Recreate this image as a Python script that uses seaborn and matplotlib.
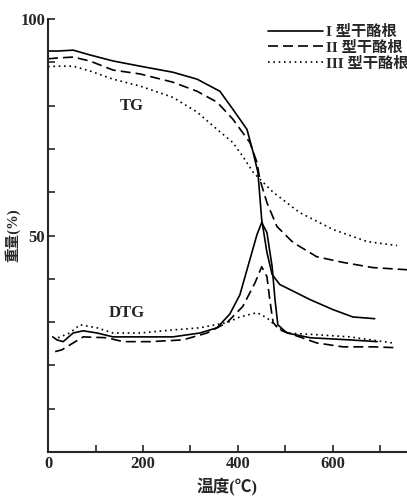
import matplotlib
matplotlib.use("Agg")
import matplotlib.pyplot as plt
import pandas as pd
import seaborn as sns

# TG curves (weight %)
tg_x_1 = [0, 21, 53, 88, 137, 194, 263, 314, 362, 389, 419, 432, 442, 450, 461, 472, 488, 552, 600, 642, 688]
tg_y_1 = [92.6, 92.6, 92.8, 91.7, 90.3, 89.1, 87.7, 86.1, 83.3, 79.2, 74.5, 69.2, 64.6, 53.7, 46.1, 41.0, 38.7, 35.2, 32.9, 31.2, 30.8]

tg_x_2 = [0, 21, 53, 88, 137, 194, 263, 314, 356, 389, 425, 440, 446, 461, 482, 516, 566, 621, 684, 756]
tg_y_2 = [90.8, 91.0, 91.2, 90.3, 88.2, 87.3, 85.4, 83.3, 80.8, 76.9, 71.5, 66.9, 63.0, 57.6, 52.1, 48.4, 45.1, 43.8, 42.6, 42.1]

tg_x_3 = [0, 21, 53, 88, 137, 194, 263, 314, 356, 389, 410, 432, 440, 474, 530, 600, 672, 735]
tg_y_3 = [89.0, 89.1, 89.1, 88.0, 86.1, 84.5, 81.9, 78.5, 74.5, 71.5, 68.3, 64.6, 63.7, 60.0, 55.3, 51.4, 48.6, 47.7]

# DTG curves (arbitrary scale, drawn on the same axis)
dtg_x_1 = [10, 19, 32, 53, 74, 103, 137, 194, 263, 320, 356, 383, 404, 425, 440, 450, 461, 472, 478, 484, 503, 552, 636, 693]
dtg_y_1 = [26.6, 25.9, 25.5, 27.5, 28.0, 27.5, 26.6, 26.6, 26.6, 27.5, 28.7, 31.9, 36.3, 44.4, 50.2, 53.0, 50.7, 42.8, 35.2, 29.4, 27.5, 26.4, 25.9, 25.5]

dtg_x_2 = [15, 29, 53, 74, 124, 158, 215, 284, 335, 377, 410, 436, 450, 461, 467, 474, 488, 566, 621, 684, 735]
dtg_y_2 = [23.2, 23.6, 25.2, 26.6, 26.4, 25.5, 25.5, 25.9, 27.5, 29.9, 33.6, 39.1, 42.8, 40.5, 35.2, 29.9, 28.2, 25.2, 24.3, 24.3, 24.1]

dtg_x_3 = [21, 46, 67, 103, 137, 194, 263, 320, 377, 404, 440, 461, 482, 503, 566, 636, 726]
dtg_y_3 = [26.4, 27.5, 29.4, 28.7, 27.5, 27.5, 28.2, 28.7, 29.9, 31.2, 32.2, 31.0, 28.9, 27.5, 27.1, 26.6, 25.2]

labels = ["I 型干酪根", "II 型干酪根", "III 型干酪根"]

sns.set_style("ticks")
plt.rcParams['font.family'] = ['Liberation Serif', 'Noto Sans CJK SC', 'DejaVu Sans']
plt.rcParams['font.weight'] = 'bold'

fig = plt.figure(figsize=(4.07, 4.99), dpi=100)
ax = fig.add_axes([0.118, 0.094, 0.882, 0.868])

styles = ['-', (0, (6, 3)), (0, (1, 2.2))]
series = [
    (tg_x_1, tg_y_1, dtg_x_1, dtg_y_1),
    (tg_x_2, tg_y_2, dtg_x_2, dtg_y_2),
    (tg_x_3, tg_y_3, dtg_x_3, dtg_y_3),
]
handles = []
for (tx, ty, dx, dy), ls, lab in zip(series, styles, labels):
    tg = pd.DataFrame({'T': tx, 'W': ty})
    dtg = pd.DataFrame({'T': dx, 'W': dy})
    sns.lineplot(data=tg, x='T', y='W', ax=ax, color='black', linestyle=ls, linewidth=1.2)
    sns.lineplot(data=dtg, x='T', y='W', ax=ax, color='black', linestyle=ls, linewidth=1.2)
    handles.append(ax.lines[-1])

ax.set_xlim(0, 756)
ax.set_ylim(0, 100)
sns.despine(ax=ax)
for s in ['left', 'bottom']:
    ax.spines[s].set_linewidth(1.5)

yt = list(range(0, 101, 10))
ax.set_yticks(yt)
ax.set_yticklabels(['50' if v == 50 else '100' if v == 100 else '' for v in yt], fontsize=12, fontweight='bold')
xt = list(range(0, 701, 100))
ax.set_xticks(xt)
ax.set_xticklabels([str(v) if v in (0, 200, 400, 600) else '' for v in xt], fontsize=12, fontweight='bold')
ax.tick_params(direction='in', length=5, width=1.2, pad=3)
ax.tick_params(axis='y', pad=2)

ax.set_xlabel('温度(℃)', fontsize=12, fontweight='bold', labelpad=4)
ax.set_ylabel('重量(%)', fontsize=10.5, fontweight='bold', labelpad=0)

ax.text(177, 80, 'TG', fontsize=12, ha='center', va='center')
ax.text(166, 32.2, 'DTG', fontsize=12, ha='center', va='center')

leg = ax.legend(handles, labels, loc='upper right', bbox_to_anchor=(1.02, 1.0), frameon=False,
                handlelength=3.6, handletextpad=0.2, labelspacing=0.1, borderaxespad=0,
                prop={'size': 11, 'weight': 'bold'})

fig.savefig('out.png', dpi=100)
